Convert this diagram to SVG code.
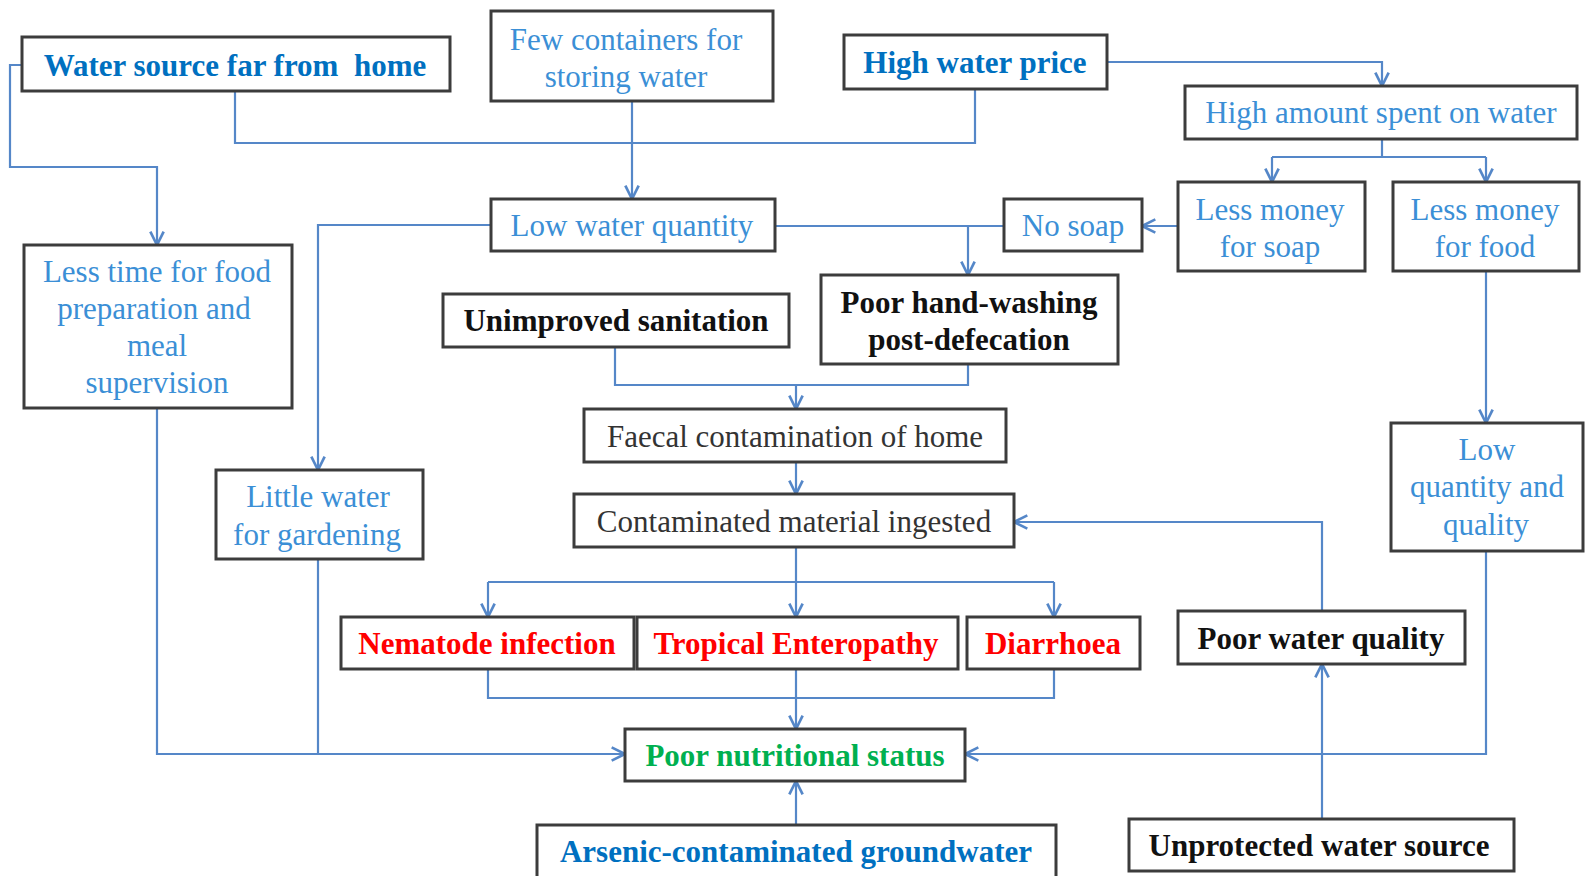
<svg xmlns="http://www.w3.org/2000/svg" width="1585" height="876" viewBox="0 0 1585 876">
<defs>
<style>
.b{fill:#fff;stroke:#3c3c3c;stroke-width:3}
.t{font-family:"Liberation Serif","Times New Roman",serif;font-size:31px;text-anchor:middle}
.bb{font-weight:bold;fill:#0070c0}
.rb{fill:#3b8fd6}
.k{font-weight:bold;fill:#111}
.g{fill:#333}
.r{font-weight:bold;fill:#ff0000}
.gr{font-weight:bold;fill:#00b050}
.c{fill:none;stroke:#5587c8;stroke-width:2.2}
</style>
<marker id="a" viewBox="0 0 12 12" refX="11" refY="6" markerWidth="16" markerHeight="16" markerUnits="userSpaceOnUse" orient="auto">
<path d="M1,1 L11,6 L1,11" fill="none" stroke="#5587c8" stroke-width="2"/>
</marker>
</defs>
<rect width="1585" height="876" fill="#fff"/>
<g id="connectors">
<path class="c" d="M235,91 V143 H975 V89"/>
<path class="c" d="M632,101 V199" marker-end="url(#a)"/>
<path class="c" d="M22,65 H10 V167 H157 V245" marker-end="url(#a)"/>
<path class="c" d="M1107,62 H1382 V86" marker-end="url(#a)"/>
<path class="c" d="M1382,139 V157"/>
<path class="c" d="M1272,157 H1486"/>
<path class="c" d="M1272,157 V182" marker-end="url(#a)"/>
<path class="c" d="M1486,157 V182" marker-end="url(#a)"/>
<path class="c" d="M1178,226 H1142" marker-end="url(#a)"/>
<path class="c" d="M1004,226 H775"/>
<path class="c" d="M968,226 V275" marker-end="url(#a)"/>
<path class="c" d="M491,225 H318 V470" marker-end="url(#a)"/>
<path class="c" d="M1486,271 V423" marker-end="url(#a)"/>
<path class="c" d="M615,347 V385 H968 V364"/>
<path class="c" d="M796,385 V409" marker-end="url(#a)"/>
<path class="c" d="M796,462 V494" marker-end="url(#a)"/>
<path class="c" d="M796,547 V617" marker-end="url(#a)"/>
<path class="c" d="M488,582 H1054"/>
<path class="c" d="M488,582 V617" marker-end="url(#a)"/>
<path class="c" d="M1054,582 V617" marker-end="url(#a)"/>
<path class="c" d="M488,669 V698 H1054 V669"/>
<path class="c" d="M796,669 V729" marker-end="url(#a)"/>
<path class="c" d="M157,408 V754 H625" marker-end="url(#a)"/>
<path class="c" d="M318,559 V754"/>
<path class="c" d="M1486,551 V754 H965" marker-end="url(#a)"/>
<path class="c" d="M1322,611 V522 H1014" marker-end="url(#a)"/>
<path class="c" d="M1322,819 V664" marker-end="url(#a)"/>
<path class="c" d="M796,825 V781" marker-end="url(#a)"/>
</g>
<g id="n-water-source"><rect class="b" x="22" y="37" width="428" height="54"/><text class="t bb" x="235" y="76" xml:space="preserve">Water source far from  home</text></g>
<g id="n-few-containers"><rect class="b" x="491" y="11" width="282" height="90"/><text class="t rb" x="626" y="50">Few containers for</text><text class="t rb" x="626" y="87">storing water</text></g>
<g id="n-high-price"><rect class="b" x="844" y="35" width="263" height="54"/><text class="t bb" x="975" y="73">High water price</text></g>
<g id="n-high-amount"><rect class="b" x="1185" y="86" width="392" height="53"/><text class="t rb" x="1381" y="123">High amount spent on water</text></g>
<g id="n-low-quantity"><rect class="b" x="491" y="199" width="284" height="52"/><text class="t rb" x="632" y="236">Low water quantity</text></g>
<g id="n-no-soap"><rect class="b" x="1004" y="199" width="138" height="52"/><text class="t rb" x="1073" y="236">No soap</text></g>
<g id="n-money-soap"><rect class="b" x="1178" y="182" width="187" height="89"/><text class="t rb" x="1270" y="220">Less money</text><text class="t rb" x="1270" y="257">for soap</text></g>
<g id="n-money-food"><rect class="b" x="1393" y="182" width="186" height="89"/><text class="t rb" x="1485" y="220">Less money</text><text class="t rb" x="1485" y="257">for food</text></g>
<g id="n-less-time"><rect class="b" x="24" y="245" width="268" height="163"/><text class="t rb" x="157" y="282">Less time for food</text><text class="t rb" x="154" y="319">preparation and</text><text class="t rb" x="157" y="356">meal</text><text class="t rb" x="157" y="393">supervision</text></g>
<g id="n-unimproved"><rect class="b" x="443" y="294" width="346" height="53"/><text class="t k" x="616" y="331">Unimproved sanitation</text></g>
<g id="n-handwashing"><rect class="b" x="821" y="275" width="297" height="89"/><text class="t k" x="969" y="313">Poor hand-washing</text><text class="t k" x="969" y="350">post-defecation</text></g>
<g id="n-faecal"><rect class="b" x="584" y="409" width="422" height="53"/><text class="t g" x="795" y="447">Faecal contamination of home</text></g>
<g id="n-ingested"><rect class="b" x="574" y="494" width="440" height="53"/><text class="t g" x="794" y="532">Contaminated material ingested</text></g>
<g id="n-gardening"><rect class="b" x="216" y="470" width="207" height="89"/><text class="t rb" x="318" y="507">Little water</text><text class="t rb" x="317" y="545">for gardening</text></g>
<g id="n-low-qq"><rect class="b" x="1391" y="423" width="192" height="128"/><text class="t rb" x="1487" y="460">Low</text><text class="t rb" x="1487" y="497">quantity and</text><text class="t rb" x="1486" y="535">quality</text></g>
<g id="n-nematode"><rect class="b" x="341" y="617" width="293" height="52"/><text class="t r" x="487" y="654">Nematode infection</text></g>
<g id="n-tropical"><rect class="b" x="637" y="617" width="321" height="52"/><text class="t r" x="796" y="654">Tropical Enteropathy</text></g>
<g id="n-diarrhoea"><rect class="b" x="967" y="617" width="173" height="52"/><text class="t r" x="1053" y="654">Diarrhoea</text></g>
<g id="n-poor-quality"><rect class="b" x="1178" y="611" width="287" height="53"/><text class="t k" x="1321" y="649">Poor water quality</text></g>
<g id="n-nutrition"><rect class="b" x="625" y="729" width="340" height="52"/><text class="t gr" x="795" y="766">Poor nutritional status</text></g>
<g id="n-arsenic"><rect class="b" x="537" y="825" width="519" height="60"/><text class="t bb" x="796" y="862">Arsenic-contaminated groundwater</text></g>
<g id="n-unprotected"><rect class="b" x="1129" y="819" width="385" height="52"/><text class="t k" x="1319" y="856">Unprotected water source</text></g>
</svg>
